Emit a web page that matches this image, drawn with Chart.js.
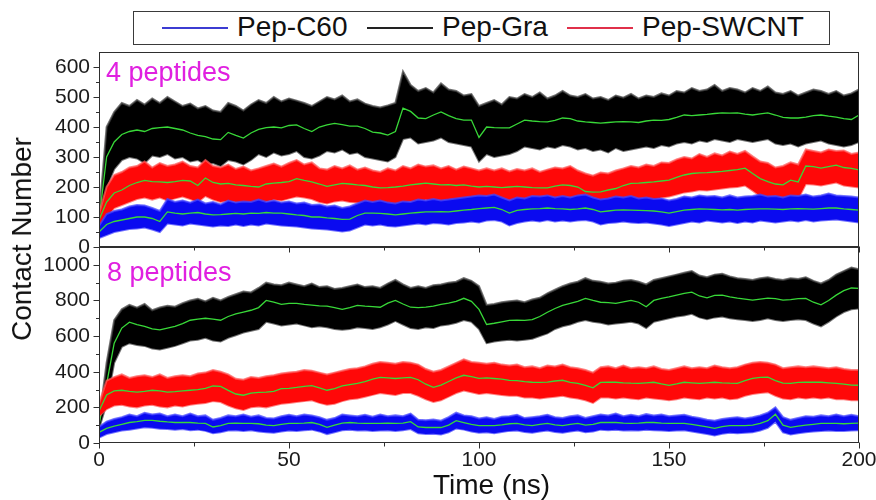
<!DOCTYPE html>
<html>
<head>
<meta charset="utf-8">
<script src="https://cdn.jsdelivr.net/npm/chart.js@4.4.1/dist/chart.umd.min.js"></script>
<style>
  html, body { margin: 0; padding: 0; background: #fff; }
  #page { position: relative; width: 876px; height: 500px; overflow: hidden;
          font-family: "Liberation Sans", Arial, sans-serif; color: #111; }
  canvas { position: absolute; left: 0; }
  .txt { position: absolute; white-space: nowrap; }
  #legend { position: absolute; left: 133px; top: 11px; width: 695px; height: 32px;
            border: 1px solid #3a3a3a; background: #fff; }
  .lg-line { position: absolute; top: 15px; height: 2px; width: 66px; }
  .lg-text { position: absolute; top: 1px; font-size: 28px; line-height: 28px; color: #111; }
</style>
</head>
<body>
<div id="page">
  <canvas id="cTop" width="876" height="215" style="top:40px"></canvas>
  <canvas id="cBot" width="876" height="260" style="top:240px"></canvas>

  <div id="legend">
    <div class="lg-line" style="left:28px;background:#3c3cd2"></div>
    <div class="lg-text" style="left:103px">Pep-C60</div>
    <div class="lg-line" style="left:233px;background:#222"></div>
    <div class="lg-text" style="left:308px">Pep-Gra</div>
    <div class="lg-line" style="left:433px;background:#e0304a"></div>
    <div class="lg-text" style="left:508px">Pep-SWCNT</div>
  </div>

  <div class="txt" style="left:106px;top:59px;font-size:27px;line-height:27px;color:#e020e0">4 peptides</div>
  <div class="txt" style="left:107px;top:259px;font-size:27px;line-height:27px;color:#e020e0">8 peptides</div>
  <div class="txt" style="left:433px;top:471px;font-size:28px;line-height:28px;color:#111">Time (ns)</div>
  <div class="txt" style="left:22px;top:239px;font-size:28px;line-height:28px;color:#111;transform:translate(-50%,-50%) rotate(-90deg)">Contact Number</div>
</div>

<script>
// Simulation time axis (ns), sampled every 2 ns
const timeNs = [
  0,2,4,6,8,10,12,14,16,18,
  20,22,24,26,28,30,32,34,36,38,
  40,42,44,46,48,50,52,54,56,58,
  60,62,64,66,68,70,72,74,76,78,
  80,82,84,86,88,90,92,94,96,98,
  100,102,104,106,108,110,112,114,116,118,
  120,122,124,126,128,130,132,134,136,138,
  140,142,144,146,148,150,152,154,156,158,
  160,162,164,166,168,170,172,174,176,178,
  180,182,184,186,188,190,192,194,196,198,
  200
];

// ---- 4 peptides ----
// Pep-Gra: running average, upper and lower envelope of the raw trace
const graTop = [
  90,300,350,375,385,390,385,395,398,400,
  395,390,380,372,368,360,358,382,372,363,
  380,392,398,400,397,405,407,395,385,400,
  407,412,408,403,403,395,383,380,373,385,
  463,452,430,428,440,450,438,428,423,423,
  365,400,398,397,397,410,423,420,418,417,
  422,430,428,420,417,415,413,415,417,418,
  417,415,420,423,422,425,432,440,438,440,
  442,445,447,446,447,443,440,444,447,440,
  432,430,430,433,438,440,436,433,428,425,
  440
];
const graTopHi = [
  100,400,450,480,470,490,475,495,480,500,
  485,470,478,462,470,455,450,480,470,455,
  475,490,480,500,485,495,488,480,470,485,
  500,492,505,485,492,478,470,465,472,480,
  585,540,520,530,515,545,525,520,505,510,
  470,480,490,475,500,495,510,500,515,495,
  505,520,505,500,510,495,500,490,505,498,
  510,495,505,500,512,505,520,515,530,520,
  525,540,520,530,525,515,530,520,535,515,
  510,520,505,515,525,520,510,520,505,512,
  525
];
const graTopLo = [
  60,200,260,290,300,295,280,305,300,310,
  295,300,285,290,275,280,270,290,285,275,
  290,310,300,315,305,310,320,300,295,305,
  320,315,325,310,315,300,295,290,285,300,
  360,365,345,350,355,365,350,345,340,335,
  285,310,300,305,310,320,335,330,325,335,
  330,340,335,325,330,320,325,315,330,320,
  325,330,335,330,340,335,345,350,345,355,
  350,360,355,350,360,355,350,355,360,345,
  340,345,335,345,350,355,345,340,335,340,
  350
];

// Pep-SWCNT
const swcntTop = [
  90,150,180,190,205,215,222,218,217,215,
  218,222,220,205,230,215,210,212,207,205,
  202,200,210,213,215,218,228,222,217,210,
  202,207,212,210,207,205,200,197,198,200,
  203,207,210,213,210,207,208,205,207,203,
  200,202,200,198,200,202,200,198,197,197,
  203,207,205,200,185,183,184,190,195,205,
  212,213,215,217,220,223,232,240,245,247,
  248,250,252,255,258,263,245,228,218,210,
  207,223,217,270,268,263,268,273,265,262,
  257
];
const swcntTopHi = [
  110,200,240,250,265,270,285,265,280,270,
  275,285,270,265,290,270,265,275,260,268,
  255,262,270,278,268,280,290,275,282,262,
  258,270,262,272,258,265,255,250,262,255,
  270,262,275,268,272,262,270,258,268,262,
  255,262,255,262,252,260,255,262,250,258,
  265,262,270,255,245,238,248,245,255,262,
  270,265,275,270,282,280,292,300,295,310,
  300,312,305,318,310,320,302,285,280,265,
  270,282,275,325,320,315,325,320,322,310,
  315
];
const swcntTopLo = [
  70,100,130,140,150,160,165,158,165,155,
  162,168,160,150,170,158,150,155,150,145,
  148,142,152,158,155,162,168,165,160,150,
  145,152,155,150,148,150,142,140,145,142,
  148,152,150,158,152,150,152,148,150,145,
  142,148,145,140,145,148,142,145,140,142,
  148,150,148,142,130,128,130,135,140,148,
  155,158,160,158,165,168,175,182,185,190,
  188,192,195,198,200,205,188,170,162,155,
  150,165,160,210,208,205,210,215,205,202,
  198
];

// Pep-C60
const c60Top = [
  50,75,85,90,95,100,100,95,85,117,
  113,110,113,115,110,107,108,110,112,110,
  113,112,115,113,113,110,107,105,100,100,
  97,95,92,93,105,113,113,112,110,107,
  110,113,115,117,117,118,117,120,123,125,
  128,130,132,125,113,122,125,127,128,130,
  128,127,125,127,130,125,117,120,123,124,
  123,122,121,120,117,113,118,123,125,127,
  126,125,124,125,123,125,126,127,127,126,
  125,127,128,127,126,128,130,130,127,125,
  123
];
const c60TopHi = [
  70,110,120,125,135,140,138,130,120,160,
  150,155,148,158,145,150,142,155,148,152,
  150,158,150,155,148,152,145,148,140,142,
  135,138,130,135,145,155,150,155,148,145,
  152,150,158,155,160,155,158,162,165,168,
  172,170,175,165,155,165,162,170,168,172,
  165,170,165,172,175,165,158,162,168,165,
  170,162,165,160,162,155,160,168,165,172,
  168,170,165,172,165,168,170,175,168,170,
  165,172,170,175,168,172,178,172,170,168,
  165
];
const c60TopLo = [
  30,40,50,55,60,62,65,58,50,78,
  75,72,78,75,72,68,72,70,75,70,
  75,72,78,75,72,70,68,65,62,60,
  58,55,52,55,65,75,72,75,70,68,
  72,75,78,75,80,78,75,80,82,85,
  82,88,90,85,72,80,85,88,85,90,
  85,88,85,88,90,85,75,80,82,85,
  82,80,82,78,75,70,75,80,85,82,
  88,85,82,85,80,85,82,88,85,82,
  85,88,85,90,85,88,90,92,88,85,
  82
];

// ---- 8 peptides ----
const graBot = [
  100,330,560,645,678,665,655,640,635,645,
  655,670,689,695,700,695,689,710,725,735,
  745,760,800,790,778,784,784,778,774,770,
  768,760,750,760,772,768,765,762,785,800,
  780,762,760,762,768,778,785,795,812,795,
  750,665,672,680,688,690,688,692,710,734,
  755,772,784,795,812,800,790,788,784,792,
  800,790,765,800,812,820,830,840,847,825,
  815,828,830,820,813,808,802,808,813,810,
  802,805,810,812,790,775,800,830,855,870,
  868
];
const graBotHi = [
  120,450,690,750,775,760,780,745,760,770,
  765,785,800,810,795,815,800,820,835,850,
  845,870,900,890,885,900,890,880,895,875,
  880,865,870,880,890,875,880,870,895,915,
  890,870,880,870,885,890,900,905,925,910,
  880,775,780,790,795,800,790,805,815,840,
  860,880,895,905,925,910,905,895,900,910,
  915,905,890,915,925,935,945,955,965,940,
  930,945,950,935,925,920,915,925,930,920,
  915,925,920,930,910,895,915,945,965,985,
  975
];
const graBotLo = [
  80,220,450,540,560,550,545,530,525,535,
  545,560,575,580,590,575,570,590,605,620,
  630,640,680,670,660,665,670,660,650,655,
  650,640,635,640,650,645,640,650,665,685,
  665,645,640,650,645,660,665,675,690,680,
  640,560,570,575,580,575,580,585,600,615,
  640,655,665,680,690,680,675,665,670,675,
  680,670,645,680,690,700,710,715,725,705,
  695,705,710,700,695,690,685,690,700,690,
  685,690,695,690,670,655,680,710,735,750,
  755
];

const swcntBot = [
  180,270,292,296,290,285,290,296,292,285,
  288,292,296,300,307,320,318,295,275,268,
  280,284,285,290,305,307,312,318,322,310,
  296,305,320,328,335,345,358,368,365,362,
  365,368,355,330,312,325,345,365,380,372,
  363,365,362,358,352,350,345,341,340,342,
  348,352,340,335,324,310,340,342,341,338,
  336,335,338,341,332,324,332,341,338,335,
  338,341,338,336,335,350,363,368,369,350,
  336,335,340,341,342,341,338,335,330,325,
  324
];
const swcntBotHi = [
  220,350,370,385,365,375,380,370,385,365,
  375,380,375,390,395,410,400,385,360,355,
  370,365,375,380,390,395,400,410,405,395,
  385,395,405,415,420,430,445,455,450,445,
  455,450,440,415,400,410,430,450,470,455,
  450,445,450,440,435,440,425,430,420,435,
  430,440,425,420,410,395,425,430,420,435,
  420,425,420,430,415,410,420,430,420,425,
  420,435,425,420,425,440,450,455,450,440,
  420,425,430,425,430,425,420,425,415,410,
  410
];
const swcntBotLo = [
  150,190,210,215,205,200,210,215,205,200,
  210,205,215,220,225,235,230,210,195,185,
  200,205,200,210,220,225,230,235,240,225,
  215,220,235,245,250,260,270,280,275,270,
  280,280,265,245,230,240,260,280,295,285,
  275,280,275,270,265,265,255,255,250,255,
  260,265,255,250,240,225,255,255,250,255,
  250,245,255,250,245,240,245,255,250,245,
  255,250,255,245,250,265,275,280,285,265,
  250,245,255,250,255,250,255,245,245,240,
  240
];

const c60Bot = [
  60,82,95,105,115,120,127,127,122,118,
  115,115,115,112,110,90,98,110,112,110,
  110,108,100,98,105,110,110,112,115,105,
  88,100,112,115,112,110,110,110,112,110,
  112,120,90,87,88,87,100,125,115,105,
  98,98,98,102,108,110,102,98,105,110,
  102,98,105,110,100,105,115,115,115,112,
  110,112,115,115,112,110,110,110,105,98,
  90,82,92,98,98,98,100,110,125,162,
  100,88,95,100,105,110,110,110,108,110,
  112
];
const c60BotHi = [
  90,120,135,145,160,150,170,160,165,150,
  160,150,165,150,155,130,140,155,150,160,
  148,155,140,138,150,158,150,160,155,145,
  130,140,160,155,150,158,148,160,150,155,
  150,165,130,128,132,125,145,170,155,150,
  138,145,135,148,150,158,140,145,150,158,
  145,140,150,155,140,150,160,155,165,150,
  158,150,162,155,160,150,155,158,148,140,
  130,125,135,140,145,138,145,155,170,200,
  145,130,140,150,148,155,150,160,150,158,
  150
];
const c60BotLo = [
  30,50,60,70,75,82,88,85,80,78,
  75,78,72,75,68,55,60,70,72,68,
  72,65,60,58,65,70,68,72,75,65,
  50,60,72,75,70,72,68,70,72,68,
  72,78,55,50,52,48,60,82,75,65,
  58,60,55,62,68,70,62,58,65,70,
  62,58,65,70,60,65,75,72,75,70,
  72,70,75,72,70,68,70,72,65,58,
  50,42,52,58,55,58,60,70,85,120,
  60,48,55,60,65,68,70,68,68,70,
  72
];

// Axis tick values
const xTicks = [0, 50, 100, 150, 200];
const xMinorTicks = [25, 75, 125, 175];
const topYTicks = [0, 100, 200, 300, 400, 500, 600];
const topYMinor = [50, 150, 250, 350, 450, 550];
const botYTicks = [0, 200, 400, 600, 800, 1000];
const botYMinor = [100, 300, 500, 700, 900];

const SMOOTH = '#38d838';
// fill colour of each trace and a softer tint for its ragged edge
const COLORS = {
  c60:   { fill: '#0a0af0', edge: 'rgba(70,70,255,0.75)' },
  gra:   { fill: '#000000', edge: 'rgba(70,70,70,0.75)' },
  swcnt: { fill: '#ff0808', edge: 'rgba(255,90,90,0.75)' }
};
const FONT = '"Liberation Sans", Arial, sans-serif';

function pts(vals) { return timeNs.map((t, i) => ({ x: t, y: vals[i] })); }

function series(mean, hi, lo, c, order) {
  return [
    { data: pts(hi), borderColor: c.edge, backgroundColor: c.fill, borderWidth: 2,
      fill: '+1', pointRadius: 0, tension: 0, order: order + 1 },
    { data: pts(lo), borderColor: c.edge, borderWidth: 2, fill: false,
      pointRadius: 0, tension: 0, order: order + 1 },
    { data: pts(mean), borderColor: SMOOTH, borderWidth: 1.3, fill: false,
      pointRadius: 0, tension: 0, order: order }
  ];
}

// Panel frame plus major/minor tick marks drawn from the chart's own scales
const frameTicks = {
  id: 'frameTicks',
  afterDraw(chart, args, o) {
    const { ctx, chartArea: a, scales } = chart;
    ctx.save();
    ctx.strokeStyle = '#2e2e2e';
    ctx.lineWidth = 1;
    ctx.strokeRect(Math.round(a.left) + 0.5, Math.round(a.top) + 0.5,
                   Math.round(a.right - a.left) - 1, Math.round(a.bottom - a.top) - 1);
    const L = Math.round(a.left) + 0.5, B = Math.round(a.bottom) - 0.5;
    ctx.beginPath();
    o.yMajor.forEach(v => { const y = Math.round(scales.y.getPixelForValue(v)) + 0.5; ctx.moveTo(L - 6, y); ctx.lineTo(L, y); });
    o.yMinor.forEach(v => { const y = Math.round(scales.y.getPixelForValue(v)) + 0.5; ctx.moveTo(L - 3.5, y); ctx.lineTo(L, y); });
    o.xMajor.forEach(v => { const x = Math.round(scales.x.getPixelForValue(v)) + 0.5; ctx.moveTo(x, B); ctx.lineTo(x, B + 6); });
    o.xMinor.forEach(v => { const x = Math.round(scales.x.getPixelForValue(v)) + 0.5; ctx.moveTo(x, B); ctx.lineTo(x, B + 4); });
    ctx.stroke();
    ctx.restore();
  }
};

function makeChart(id, datasets, yMax, yTicks, yMinor, showX, xHeight, padTop) {
  return new Chart(document.getElementById(id), {
    type: 'line',
    data: { datasets },
    options: {
      responsive: false, animation: false, devicePixelRatio: 1,
      layout: { padding: { left: 0, right: 17, top: padTop, bottom: 0 } },
      plugins: {
        legend: { display: false }, tooltip: { enabled: false },
        frameTicks: { yMajor: yTicks, yMinor: yMinor, xMajor: xTicks, xMinor: xMinorTicks }
      },
      scales: {
        x: {
          type: 'linear', min: 0, max: 200,
          afterBuildTicks: s => { s.ticks = xTicks.map(v => ({ value: v })); },
          grid: { display: false, drawTicks: false }, border: { display: false },
          ticks: { display: showX, padding: 5, color: '#1a1a1a', font: { family: FONT, size: 21 },
                   callback: v => String(v), maxRotation: 0, autoSkip: false },
          afterFit: s => { s.height = xHeight; s.paddingLeft = 0; s.paddingRight = 0; }
        },
        y: {
          type: 'linear', min: 0, max: yMax,
          afterBuildTicks: s => { s.ticks = yTicks.map(v => ({ value: v })); },
          grid: { display: false, drawTicks: false }, border: { display: false },
          ticks: { padding: 9, color: '#1a1a1a', font: { family: FONT, size: 21 },
                   callback: v => String(v), autoSkip: false },
          afterFit: s => { s.width = 99; s.paddingTop = 0; s.paddingBottom = 0; }
        }
      }
    },
    plugins: [frameTicks]
  });
}

makeChart('cTop', [
  ...series(graTop, graTopHi, graTopLo, COLORS.gra, 4),
  ...series(swcntTop, swcntTopHi, swcntTopLo, COLORS.swcnt, 2),
  ...series(c60Top, c60TopHi, c60TopLo, COLORS.c60, 0)
], 650, topYTicks, topYMinor, false, 8, 12);

makeChart('cBot', [
  ...series(graBot, graBotHi, graBotLo, COLORS.gra, 4),
  ...series(swcntBot, swcntBotHi, swcntBotLo, COLORS.swcnt, 2),
  ...series(c60Bot, c60BotHi, c60BotLo, COLORS.c60, 0)
], 1100, botYTicks, botYMinor, true, 57, 7);
</script>
</body>
</html>
